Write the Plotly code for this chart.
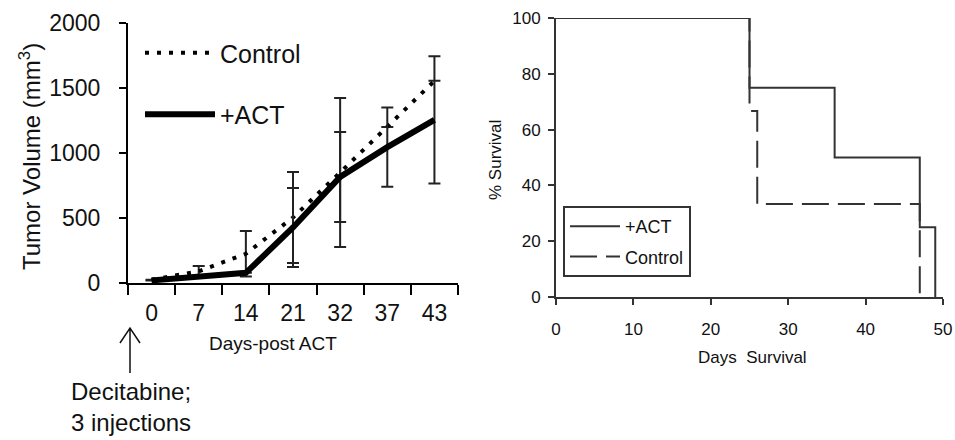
import plotly.graph_objects as go

# ---- Left panel data: tumor volume ----
days_post_act = ["0", "7", "14", "21", "32", "37", "43"]
control_volume = [25, 90, 225, 504, 850, 1200, 1555]
control_err = [None, 40, 175, 350, 573, None, None]
act_volume = [20, 45, 78, 427, 816, 1045, 1255]
act_err = [None, None, None, 304, 346, 305, 490]
vol_ticks = [0, 500, 1000, 1500, 2000]

# ---- Right panel data: survival (step curves) ----
act_surv_days = [0, 25, 36, 47, 49]
act_surv_pct = [100, 75, 50, 25, 0]
ctrl_surv_days = [0, 25, 26, 47]
ctrl_surv_pct = [100, 66.7, 33.3, 0]
surv_xticks = [0, 10, 20, 30, 40, 50]
surv_yticks = [0, 20, 40, 60, 80, 100]

W, H = 955, 440
FONT = "Arial, Liberation Sans, sans-serif"

def px(x):
    return x / W

def py(y):
    return (H - y) / H

fig = go.Figure()

fig.add_trace(go.Scatter(
    x=days_post_act, y=control_volume, name="Control", mode="lines",
    line=dict(color="black", width=4, dash="4px,8px"),
    error_y=dict(type="data", array=control_err, visible=True, color="#222",
                 thickness=2, width=6),
    xaxis="x", yaxis="y", legend="legend", legendgroup="c",
))
fig.add_trace(go.Scatter(
    x=days_post_act, y=act_volume, name="+ACT", mode="lines",
    line=dict(color="black", width=6),
    error_y=dict(type="data", array=act_err, visible=True, color="#222",
                 thickness=2, width=6),
    xaxis="x", yaxis="y", legend="legend", legendgroup="a",
))

fig.add_trace(go.Scatter(
    x=ctrl_surv_days, y=ctrl_surv_pct, name="Control", mode="lines",
    line=dict(color="#333", width=2, dash="27px,9px", shape="hv"),
    xaxis="x2", yaxis="y2", legend="legend2", legendrank=2, legendgroup="c2",
))
fig.add_trace(go.Scatter(
    x=act_surv_days, y=act_surv_pct, name="+ACT", mode="lines",
    line=dict(color="#333", width=2, shape="hv"),
    xaxis="x2", yaxis="y2", legend="legend2", legendrank=1, legendgroup="a2",
))

fig.update_layout(
    template="none",
    width=W, height=H,
    margin=dict(l=0, r=0, t=0, b=0, autoexpand=False),
    paper_bgcolor="white", plot_bgcolor="white",
    font=dict(family=FONT, color="#111"),
    showlegend=True,
    xaxis=dict(
        domain=[px(128), px(458)], anchor="y", type="category",
        categoryorder="array", categoryarray=days_post_act,
        range=[-0.5, 6.5], tickson="boundaries",
        showline=True, linecolor="black", linewidth=2,
        ticks="outside", ticklen=10, tickwidth=2, tickcolor="black",
        tickfont=dict(size=23), ticklabelstandoff=8, automargin=False,
        showgrid=False, zeroline=False, fixedrange=True,
    ),
    yaxis=dict(
        domain=[py(283), py(23)], anchor="x",
        range=[0, 2000], tickvals=vol_ticks,
        showline=True, linecolor="black", linewidth=2,
        ticks="outside", ticklen=7, tickwidth=2, tickcolor="black",
        tickfont=dict(size=23), ticklabelstandoff=14, automargin=False,
        showgrid=False, zeroline=False, fixedrange=True,
    ),
    xaxis2=dict(
        domain=[px(556), px(943)], anchor="y2",
        range=[0, 50], tickvals=surv_xticks,
        showline=True, linecolor="#333", linewidth=2,
        ticks="outside", ticklen=6, tickwidth=2, tickcolor="#333",
        tickfont=dict(size=17), ticklabelstandoff=10, automargin=False,
        showgrid=False, zeroline=False, fixedrange=True,
    ),
    yaxis2=dict(
        domain=[py(297), py(18)], anchor="x2",
        range=[0, 100], tickvals=surv_yticks,
        showline=True, linecolor="#333", linewidth=2,
        ticks="outside", ticklen=6, tickwidth=2, tickcolor="#333",
        tickfont=dict(size=17), ticklabelstandoff=4, automargin=False,
        showgrid=False, zeroline=False, fixedrange=True,
    ),
    legend=dict(
        x=px(140), y=py(30), xanchor="left", yanchor="top",
        bgcolor="rgba(0,0,0,0)", borderwidth=0,
        font=dict(size=25, color="#111"),
        itemwidth=70, tracegroupgap=26, traceorder="grouped",
    ),
    legend2=dict(
        x=px(563), y=py(206), xanchor="left", yanchor="top",
        bgcolor="white", bordercolor="#333", borderwidth=2,
        font=dict(size=18, color="#111"),
        itemwidth=50, entrywidth=140, entrywidthmode="pixels",
        tracegroupgap=4, traceorder="grouped",
    ),
    annotations=[
        dict(text="Tumor Volume (mm<sup>3</sup>)", x=px(30), y=py(157),
             xref="paper", yref="paper", showarrow=False, textangle=-90,
             xanchor="center", yanchor="middle",
             font=dict(size=24, color="#111")),
        dict(text="Days-post ACT", x=px(273), y=py(343),
             xref="paper", yref="paper", showarrow=False,
             xanchor="center", yanchor="middle",
             font=dict(size=19, color="#111")),
        dict(text="Decitabine;<br>3 injections", x=px(131), y=py(407),
             xref="paper", yref="paper", showarrow=False, align="center",
             xanchor="center", yanchor="middle",
             font=dict(size=24, color="#111")),
        dict(text="% Survival", x=px(495), y=py(160),
             xref="paper", yref="paper", showarrow=False, textangle=-90,
             xanchor="center", yanchor="middle",
             font=dict(size=17, color="#111")),
        dict(text="Days  Survival", x=px(752), y=py(357),
             xref="paper", yref="paper", showarrow=False,
             xanchor="center", yanchor="middle",
             font=dict(size=17, color="#111")),
    ],
    shapes=[
        dict(type="path", xref="paper", yref="paper",
             path=(f"M {px(130)},{py(373)} L {px(130)},{py(328)} "
                   f"M {px(120)},{py(343)} L {px(130)},{py(328)} L {px(140)},{py(343)}"),
             line=dict(color="#111", width=1.5)),
    ],
)

fig.write_html("out.html")
